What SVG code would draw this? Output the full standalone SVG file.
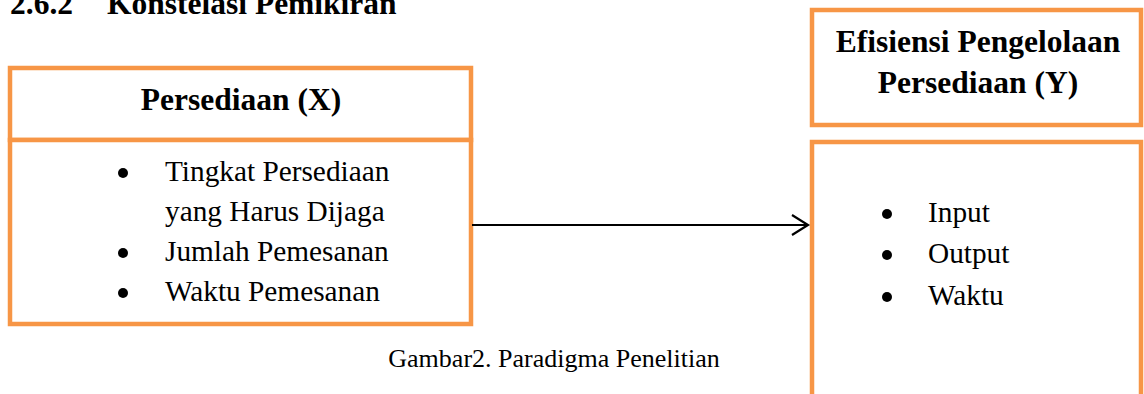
<svg xmlns="http://www.w3.org/2000/svg" width="1144" height="394" viewBox="0 0 1144 394">
<style>
.box{fill:#fff;stroke:#F79646;stroke-width:4.5}
.t{font-family:"Liberation Serif","Times New Roman",serif;fill:#000}
.b{font-weight:bold;font-size:31.5px}
.r{font-size:29.3px}
.c{font-size:26px}
.conn{stroke:#000;stroke-width:2.2;fill:none}
</style>
<defs>
<marker id="arr" markerWidth="20" markerHeight="24" refX="17" refY="11" orient="auto" markerUnits="userSpaceOnUse">
<path d="M1,1 L17,11 L1,21" fill="none" stroke="#000" stroke-width="2.2"/>
</marker>
</defs>
<rect width="1144" height="394" fill="#fff"/>
<g id="heading">
<text class="t b" x="10" y="14">2.6.2</text>
<text class="t b" x="107" y="14">Konstelasi Pemikiran</text>
</g>
<g id="node-x">
<rect class="box" x="10" y="68" width="461" height="72"/>
<rect class="box" x="10" y="140" width="461" height="184"/>
<text class="t b" x="241" y="110" text-anchor="middle">Persediaan (X)</text>
<circle cx="123" cy="173" r="5"/>
<circle cx="123" cy="253" r="5"/>
<circle cx="123" cy="293" r="5"/>
<text class="t r" x="165" y="181">Tingkat Persediaan</text>
<text class="t r" x="165" y="221">yang Harus Dijaga</text>
<text class="t r" x="165" y="261">Jumlah Pemesanan</text>
<text class="t r" x="165" y="301">Waktu Pemesanan</text>
</g>
<g id="node-y">
<rect class="box" x="812" y="10" width="329" height="115"/>
<text class="t b" x="978" y="52" text-anchor="middle">Efisiensi Pengelolaan</text>
<text class="t b" x="978" y="93" text-anchor="middle">Persediaan (Y)</text>
<rect class="box" x="812" y="142" width="329" height="280"/>
<circle cx="887" cy="214" r="5"/>
<circle cx="887" cy="255" r="5"/>
<circle cx="887" cy="297" r="5"/>
<text class="t r" x="928" y="222">Input</text>
<text class="t r" x="928" y="263">Output</text>
<text class="t r" x="928" y="305">Waktu</text>
</g>
<g id="connectors">
<line class="conn" x1="472" y1="225" x2="808" y2="225" marker-end="url(#arr)"/>
</g>
<g id="caption">
<text class="t c" x="554" y="367" text-anchor="middle">Gambar2. Paradigma Penelitian</text>
</g>
</svg>
